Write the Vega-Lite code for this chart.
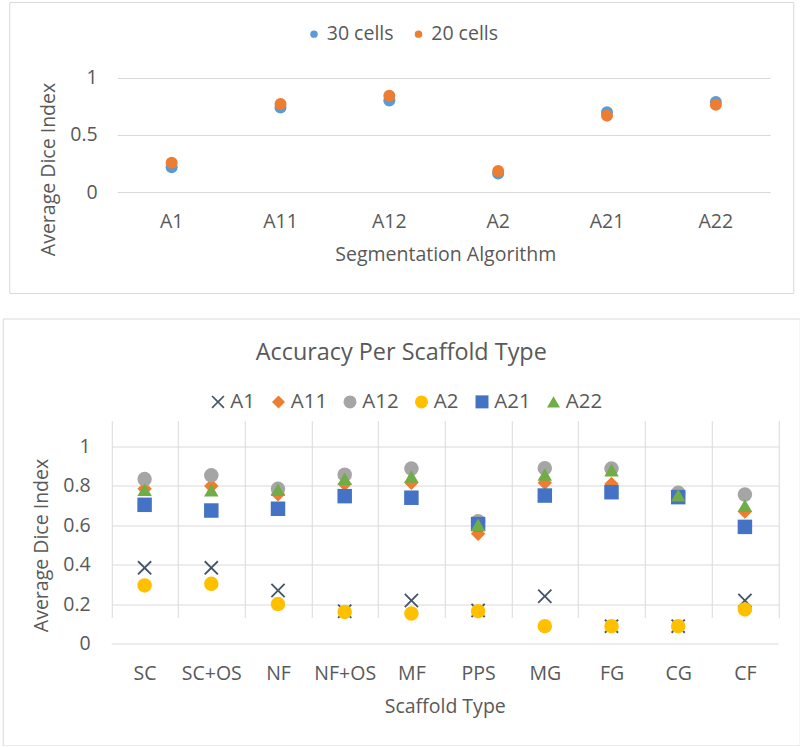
{
  "$schema": "https://vega.github.io/schema/vega-lite/v6.json",
  "padding": {"left": 1.5, "top": 1, "right": 0, "bottom": 0},
  "spacing": 23.5,
  "center": true,
  "resolve": {"scale": {"color": "independent", "shape": "independent", "x": "independent", "y": "independent"}, "legend": {"color": "independent", "shape": "independent"}},
  "config": {
    "font": "Open Sans",
    "view": {"stroke": "#D9D9D9", "strokeWidth": 1},
    "axis": {
      "domain": false, "ticks": false, "tickSize": 0,
      "labelColor": "#595959", "titleColor": "#595959", "titleFontWeight": "normal",
      "gridColor": "#D9D9D9", "gridWidth": 1,
      "labelFontSize": 19.5, "titleFontSize": 19.5,
      "labelFont": "Open Sans", "titleFont": "Open Sans"
    },
    "legend": {"labelColor": "#595959", "labelFontSize": 19.5, "labelFont": "Open Sans"},
    "title": {"color": "#595959", "fontWeight": "normal", "font": "Open Sans", "fontSize": 23.4}
  },
  "vconcat": [
    {
      "width": 784,
      "height": 291,
      "data": {"values": [
        {"algorithm": "A1", "series": "30 cells", "value": 0.217},
        {"algorithm": "A11", "series": "30 cells", "value": 0.739},
        {"algorithm": "A12", "series": "30 cells", "value": 0.80},
        {"algorithm": "A2", "series": "30 cells", "value": 0.162},
        {"algorithm": "A21", "series": "30 cells", "value": 0.696},
        {"algorithm": "A22", "series": "30 cells", "value": 0.785},
        {"algorithm": "A1", "series": "20 cells", "value": 0.255},
        {"algorithm": "A11", "series": "20 cells", "value": 0.768},
        {"algorithm": "A12", "series": "20 cells", "value": 0.84},
        {"algorithm": "A2", "series": "20 cells", "value": 0.183},
        {"algorithm": "A21", "series": "20 cells", "value": 0.667},
        {"algorithm": "A22", "series": "20 cells", "value": 0.762}
      ]},
      "mark": {"type": "point", "filled": true, "size": 144, "opacity": 1},
      "encoding": {
        "x": {
          "field": "algorithm", "type": "nominal",
          "scale": {"type": "band", "domain": ["A1", "A11", "A12", "A2", "A21", "A22"], "range": [108, 761], "paddingInner": 0, "paddingOuter": 0},
          "axis": {"title": "Segmentation Algorithm", "labelAngle": 0, "grid": false, "offset": -101, "labelPadding": 35, "labelBaseline": "alphabetic", "titleX": 436, "titleY": 68, "titleBaseline": "alphabetic", "titleAlign": "center"}
        },
        "y": {
          "field": "value", "type": "quantitative",
          "scale": {"domain": [0, 1], "range": [190, 75.5], "nice": false, "zero": false},
          "axis": {"title": "Average Dice Index", "values": [0, 0.5, 1], "format": "~g", "grid": true, "offset": -108, "labelPadding": 20, "titleX": -69, "titleY": 167, "titleBaseline": "middle", "titleAlign": "center", "titleAngle": 270}
        },
        "color": {
          "field": "series", "type": "nominal",
          "scale": {"domain": ["30 cells", "20 cells"], "range": ["#5B9BD5", "#ED7D31"]},
          "legend": {"title": null, "orient": "none", "direction": "horizontal", "legendX": 295, "legendY": 22, "symbolSize": 56, "symbolType": "circle", "labelOffset": 3, "columnPadding": 14.5, "symbolOpacity": 1}
        }
      }
    },
    {
      "width": 797,
      "height": 427,
      "title": {"text": "Accuracy Per Scaffold Type", "anchor": "middle", "frame": "group", "orient": "top", "offset": -65, "baseline": "alphabetic"},
      "data": {"values": [
        {"scaffold": "SC", "algorithm": "A1", "value": 0.384},
        {"scaffold": "SC+OS", "algorithm": "A1", "value": 0.384},
        {"scaffold": "NF", "algorithm": "A1", "value": 0.269},
        {"scaffold": "NF+OS", "algorithm": "A1", "value": 0.164},
        {"scaffold": "MF", "algorithm": "A1", "value": 0.218},
        {"scaffold": "PPS", "algorithm": "A1", "value": 0.168},
        {"scaffold": "MG", "algorithm": "A1", "value": 0.24},
        {"scaffold": "FG", "algorithm": "A1", "value": 0.088},
        {"scaffold": "CG", "algorithm": "A1", "value": 0.088},
        {"scaffold": "CF", "algorithm": "A1", "value": 0.218},
        {"scaffold": "SC", "algorithm": "A11", "value": 0.785},
        {"scaffold": "SC+OS", "algorithm": "A11", "value": 0.80},
        {"scaffold": "NF", "algorithm": "A11", "value": 0.757},
        {"scaffold": "NF+OS", "algorithm": "A11", "value": 0.81},
        {"scaffold": "MF", "algorithm": "A11", "value": 0.816},
        {"scaffold": "PPS", "algorithm": "A11", "value": 0.557},
        {"scaffold": "MG", "algorithm": "A11", "value": 0.816},
        {"scaffold": "FG", "algorithm": "A11", "value": 0.81},
        {"scaffold": "CG", "algorithm": "A11", "value": 0.75},
        {"scaffold": "CF", "algorithm": "A11", "value": 0.67},
        {"scaffold": "SC", "algorithm": "A12", "value": 0.835},
        {"scaffold": "SC+OS", "algorithm": "A12", "value": 0.854},
        {"scaffold": "NF", "algorithm": "A12", "value": 0.785},
        {"scaffold": "NF+OS", "algorithm": "A12", "value": 0.857},
        {"scaffold": "MF", "algorithm": "A12", "value": 0.888},
        {"scaffold": "PPS", "algorithm": "A12", "value": 0.62},
        {"scaffold": "MG", "algorithm": "A12", "value": 0.89},
        {"scaffold": "FG", "algorithm": "A12", "value": 0.888},
        {"scaffold": "CG", "algorithm": "A12", "value": 0.765},
        {"scaffold": "CF", "algorithm": "A12", "value": 0.756},
        {"scaffold": "SC", "algorithm": "A2", "value": 0.295},
        {"scaffold": "SC+OS", "algorithm": "A2", "value": 0.303},
        {"scaffold": "NF", "algorithm": "A2", "value": 0.20},
        {"scaffold": "NF+OS", "algorithm": "A2", "value": 0.16},
        {"scaffold": "MF", "algorithm": "A2", "value": 0.152},
        {"scaffold": "PPS", "algorithm": "A2", "value": 0.164},
        {"scaffold": "MG", "algorithm": "A2", "value": 0.088},
        {"scaffold": "FG", "algorithm": "A2", "value": 0.088},
        {"scaffold": "CG", "algorithm": "A2", "value": 0.088},
        {"scaffold": "CF", "algorithm": "A2", "value": 0.173},
        {"scaffold": "SC", "algorithm": "A21", "value": 0.704},
        {"scaffold": "SC+OS", "algorithm": "A21", "value": 0.675},
        {"scaffold": "NF", "algorithm": "A21", "value": 0.684},
        {"scaffold": "NF+OS", "algorithm": "A21", "value": 0.748},
        {"scaffold": "MF", "algorithm": "A21", "value": 0.74},
        {"scaffold": "PPS", "algorithm": "A21", "value": 0.606},
        {"scaffold": "MG", "algorithm": "A21", "value": 0.751},
        {"scaffold": "FG", "algorithm": "A21", "value": 0.768},
        {"scaffold": "CG", "algorithm": "A21", "value": 0.743},
        {"scaffold": "CF", "algorithm": "A21", "value": 0.592},
        {"scaffold": "SC", "algorithm": "A22", "value": 0.78},
        {"scaffold": "SC+OS", "algorithm": "A22", "value": 0.778},
        {"scaffold": "NF", "algorithm": "A22", "value": 0.78},
        {"scaffold": "NF+OS", "algorithm": "A22", "value": 0.836},
        {"scaffold": "MF", "algorithm": "A22", "value": 0.848},
        {"scaffold": "PPS", "algorithm": "A22", "value": 0.603},
        {"scaffold": "MG", "algorithm": "A22", "value": 0.858},
        {"scaffold": "FG", "algorithm": "A22", "value": 0.88},
        {"scaffold": "CG", "algorithm": "A22", "value": 0.753},
        {"scaffold": "CF", "algorithm": "A22", "value": 0.70}
      ]},
      "mark": {"type": "point", "filled": true, "size": 210, "opacity": 1},
      "encoding": {
        "x": {
          "field": "scaffold", "type": "nominal",
          "scale": {"type": "band", "domain": ["SC", "SC+OS", "NF", "NF+OS", "MF", "PPS", "MG", "FG", "CG", "CF"], "range": [108.5, 775.5], "paddingInner": 0, "paddingOuter": 0},
          "axis": {"title": "Scaffold Type", "labelAngle": 0, "grid": true, "tickBand": "extent", "offset": -102, "labelPadding": 36, "labelBaseline": "alphabetic", "titleX": 442, "titleY": 69, "titleBaseline": "alphabetic", "titleAlign": "center"}
        },
        "y": {
          "field": "value", "type": "quantitative",
          "scale": {"domain": [0, 1], "range": [325, 128], "nice": false, "zero": false},
          "axis": {"title": "Average Dice Index", "values": [0, 0.2, 0.4, 0.6, 0.8, 1], "format": "~g", "grid": true, "offset": -108.5, "labelPadding": 21, "titleX": -69.3, "titleY": 226.5, "titleBaseline": "middle", "titleAlign": "center", "titleAngle": 270}
        },
        "color": {
          "field": "algorithm", "type": "nominal",
          "scale": {"domain": ["A1", "A11", "A12", "A2", "A21", "A22"], "range": ["#44546A", "#ED7D31", "#A5A5A5", "#FFC000", "#4472C4", "#70AD47"]},
          "legend": {"title": null, "orient": "none", "direction": "horizontal", "legendX": 205, "legendY": 73, "symbolSize": 169, "labelOffset": 2, "columnPadding": 12.5, "labelFontSize": 20.5, "symbolOpacity": 1}
        },
        "shape": {
          "field": "algorithm", "type": "nominal",
          "scale": {"domain": ["A1", "A11", "A12", "A2", "A21", "A22"], "range": ["M-0.82,-1L0,-0.18L0.82,-1L1,-0.82L0.18,0L1,0.82L0.82,1L0,0.18L-0.82,1L-1,0.82L-0.18,0L-1,-0.82Z", "diamond", "circle", "circle", "square", "triangle-up"]},
          "legend": {"title": null, "orient": "none", "direction": "horizontal", "legendX": 205, "legendY": 73, "symbolSize": 169, "labelOffset": 2, "columnPadding": 12.5, "labelFontSize": 20.5, "symbolOpacity": 1}
        }
      }
    }
  ]
}
